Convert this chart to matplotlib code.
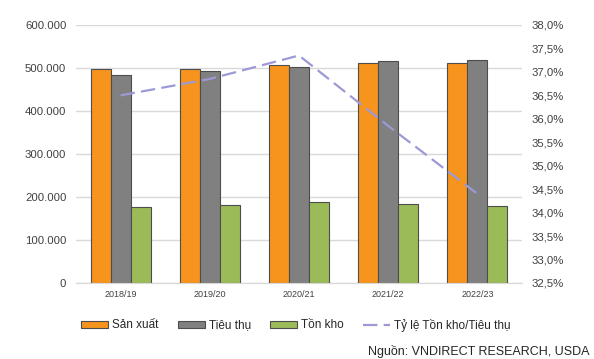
import matplotlib.pyplot as plt
import numpy as np
from matplotlib.ticker import FuncFormatter

# Dữ liệu
vu = ['2018/19', '2019/20', '2020/21', '2021/22', '2022/23']
san_xuat = [498000, 498000, 508000, 512000, 511000]
tieu_thu = [484000, 493000, 502000, 516000, 518000]
ton_kho = [176000, 181000, 188000, 184000, 178000]
ty_le = [36.5, 36.85, 37.35, 35.85, 34.4]  # %

plt.rcParams['font.family'] = ['Liberation Sans', 'DejaVu Sans']

fig = plt.figure(figsize=(5.94, 3.59), dpi=100)
ax = fig.add_axes([76 / 594, 1 - 283 / 359, 446 / 594, 258 / 359])
ax2 = ax.twinx()

x = np.arange(len(vu))
w = 0.224
edge = '#4d4d4d'
ax.bar(x - w, san_xuat, w, color='#F7941D', edgecolor=edge, linewidth=0.8, label='Sản xuất', zorder=3)
ax.bar(x, tieu_thu, w, color='#808080', edgecolor=edge, linewidth=0.8, label='Tiêu thụ', zorder=3)
ax.bar(x + w, ton_kho, w, color='#9BBB59', edgecolor=edge, linewidth=0.8, label='Tồn kho', zorder=3)

ax2.plot(x, ty_le, color='#9c9ad6', linewidth=1.6, dashes=(6.5, 2.8),
         label='Tỷ lệ Tồn kho/Tiêu thụ', zorder=4)

ax.set_xlim(-0.5, len(vu) - 0.5)
ax.set_ylim(0, 600000)
ax.set_yticks(np.arange(0, 600001, 100000))
ax.yaxis.set_major_formatter(FuncFormatter(lambda v, p: f'{int(v):,}'.replace(',', '.')))
ax.grid(axis='y', color='#d9d9d9', linewidth=1, zorder=0)
ax.set_xticks(x)
ax.set_xticklabels(vu, fontsize=6.5, color='#404040')
ax.tick_params(axis='y', labelsize=8.2, colors='#404040', length=0, pad=7)
ax.tick_params(axis='x', length=0, pad=5)

ax2.set_ylim(32.5, 38.0)
ax2.set_yticks(np.arange(32.5, 38.01, 0.5))
ax2.yaxis.set_major_formatter(FuncFormatter(lambda v, p: f'{v:.1f}%'.replace('.', ',')))
ax2.tick_params(axis='y', labelsize=8.2, colors='#404040', length=0, pad=7)

for a in (ax, ax2):
    for s in ('top', 'left', 'right'):
        a.spines[s].set_visible(False)
    a.spines['bottom'].set_color('#d9d9d9')

h1, l1 = ax.get_legend_handles_labels()
h2, l2 = ax2.get_legend_handles_labels()
fig.legend(h1 + h2, l1 + l2, loc='center', bbox_to_anchor=(296 / 594, 1 - 325 / 359),
           ncol=4, frameon=False, fontsize=8.5, handlelength=2.3, handleheight=0.5,
           columnspacing=1.6, handletextpad=0.35, labelcolor='#262626')

fig.text(590 / 594, 1 - 352 / 359, 'Nguồn: VNDIRECT RESEARCH, USDA', ha='right', va='center',
         fontsize=9, color='#262626')

fig.savefig('out.png', dpi=100)
